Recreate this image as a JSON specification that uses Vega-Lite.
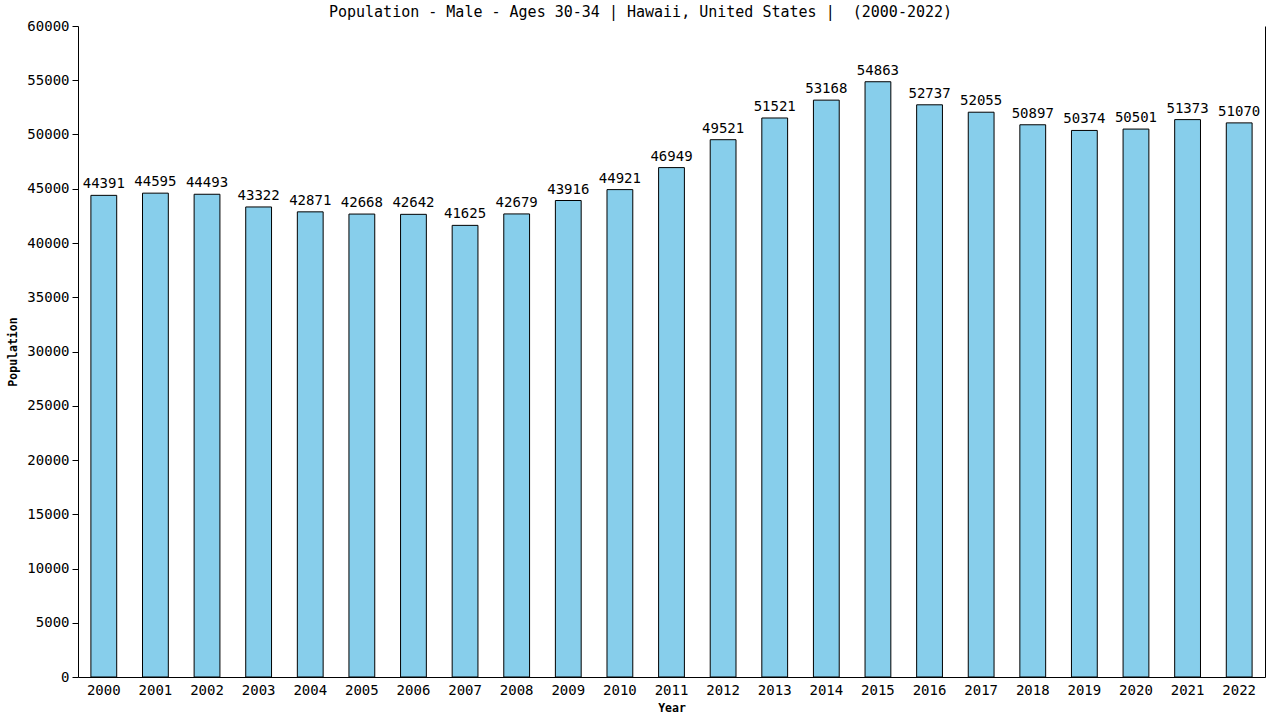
{
  "$schema": "https://vega.github.io/schema/vega-lite/v6.json",
  "width": 1187,
  "height": 651,
  "autosize": {"type": "none"},
  "padding": {"left": 78, "right": 15, "top": 26, "bottom": 43},
  "title": {
    "text": "Population - Male - Ages 30-34 | Hawaii, United States |\u00a0 (2000-2022)",
    "font": "DejaVu Sans Mono",
    "fontSize": 15,
    "fontWeight": "normal",
    "color": "black",
    "anchor": "middle",
    "dx": -31,
    "offset": -1
  },
  "data": {
    "values": [
      {"Year": "2000", "Population": 44391},
      {"Year": "2001", "Population": 44595},
      {"Year": "2002", "Population": 44493},
      {"Year": "2003", "Population": 43322},
      {"Year": "2004", "Population": 42871},
      {"Year": "2005", "Population": 42668},
      {"Year": "2006", "Population": 42642},
      {"Year": "2007", "Population": 41625},
      {"Year": "2008", "Population": 42679},
      {"Year": "2009", "Population": 43916},
      {"Year": "2010", "Population": 44921},
      {"Year": "2011", "Population": 46949},
      {"Year": "2012", "Population": 49521},
      {"Year": "2013", "Population": 51521},
      {"Year": "2014", "Population": 53168},
      {"Year": "2015", "Population": 54863},
      {"Year": "2016", "Population": 52737},
      {"Year": "2017", "Population": 52055},
      {"Year": "2018", "Population": 50897},
      {"Year": "2019", "Population": 50374},
      {"Year": "2020", "Population": 50501},
      {"Year": "2021", "Population": 51373},
      {"Year": "2022", "Population": 51070}
    ]
  },
  "encoding": {
    "x": {
      "field": "Year",
      "type": "ordinal",
      "scale": {"paddingInner": 0.5, "paddingOuter": 0.25},
      "axis": {"labelAngle": 0, "ticks": false, "title": "Year"}
    }
  },
  "layer": [
    {
      "mark": {"type": "bar", "color": "#87CEEB", "stroke": "black", "strokeWidth": 1},
      "encoding": {
        "y": {
          "field": "Population",
          "type": "quantitative",
          "scale": {"domain": [0, 60000]},
          "axis": {"orient": "left", "tickCount": 12, "title": "Population", "format": "d"}
        }
      }
    },
    {
      "mark": {"type": "text", "dy": -7, "baseline": "alphabetic", "font": "DejaVu Sans Mono", "fontSize": 14, "color": "black"},
      "encoding": {
        "y": {"field": "Population", "type": "quantitative", "scale": {"domain": [0, 60000]}, "axis": null},
        "text": {"field": "Population", "type": "quantitative", "format": "d"}
      }
    },
    {
      "mark": {"type": "rule", "opacity": 0},
      "encoding": {
        "y": {
          "field": "Population",
          "type": "quantitative",
          "scale": {"domain": [0, 60000]},
          "axis": {"orient": "right", "labels": false, "ticks": false, "title": null, "grid": false}
        }
      }
    }
  ],
  "resolve": {"axis": {"y": "independent"}},
  "config": {
    "view": {"stroke": null},
    "axis": {
      "grid": false,
      "domainColor": "black",
      "tickColor": "black",
      "labelColor": "black",
      "labelFont": "DejaVu Sans Mono",
      "labelFontSize": 14,
      "titleFont": "DejaVu Sans Mono",
      "titleFontSize": 11.5,
      "titleFontWeight": "bold",
      "titleColor": "black",
      "tickSize": 6
    },
    "axisX": {"labelPadding": 6, "titlePadding": 5},
    "axisY": {"titlePadding": 8, "labelPadding": 3}
  }
}
